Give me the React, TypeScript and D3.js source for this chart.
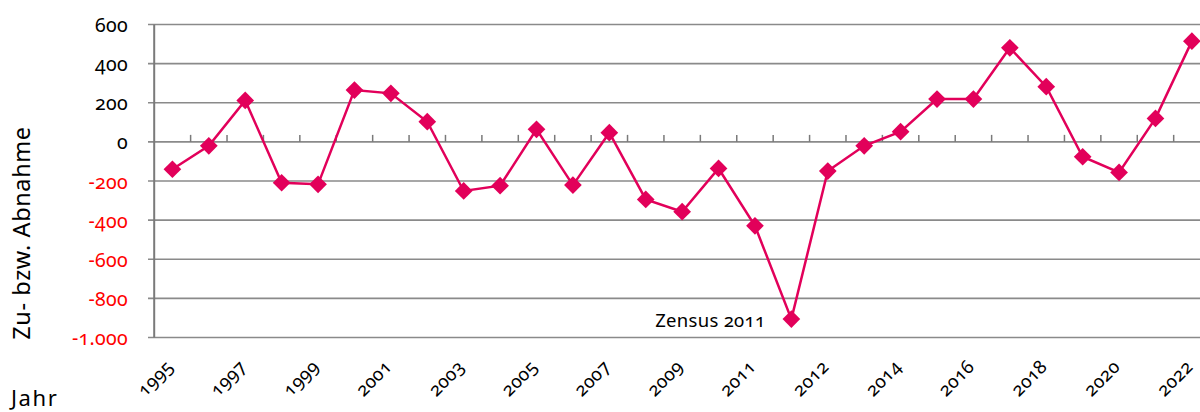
import React from "react";
import * as d3 from "d3";

const categories: string[] = [
  "1995", "1996", "1997", "1998", "1999", "2000", "2001", "2002", "2003", "2004",
  "2005", "2006", "2007", "2008", "2009", "2010", "2011", "Zensus 2011",
  "2012", "2013", "2014", "2015", "2016", "2017", "2018", "2019", "2020", "2021", "2022",
];
const tickLabels: string[] = [
  "1995", "", "1997", "", "1999", "", "2001", "", "2003", "", "2005", "", "2007", "", "2009", "",
  "2011", "", "2012", "", "2014", "", "2016", "", "2018", "", "2020", "", "2022",
];
const values: number[] = [
  -140, -20, 212, -209, -217, 265, 248, 103, -251, -224, 64, -221, 47, -294, -357, -136, -429,
  -906, -149, -20, 52, 219, 219, 481, 282, -76, -156, 120, 515,
];
const yTicks: number[] = [600, 400, 200, 0, -200, -400, -600, -800, -1000];
const yTickLabels: string[] = ["600", "400", "200", "0", "-200", "-400", "-600", "-800", "-1.000"];
const annotation = "Zensus 2011";

const W = 1200;
const H = 412;
const left = 154.2;
const band = 36.41;
const top = 24.5;
const bottom = 337.5;
const lineColor = "#E2005A";
const font = "'Noto Sans', sans-serif";

export default function App() {
  const x = d3
    .scaleBand<number>()
    .domain(categories.map((_, i) => i))
    .range([left, left + band * categories.length])
    .padding(0);
  const y = d3.scaleLinear().domain([-1000, 600]).range([bottom, top]);
  const cx = (i: number) => (x(i) as number) + x.bandwidth() / 2;

  const line = d3
    .line<number>()
    .x((_, i) => cx(i))
    .y((d) => y(d));

  const diamond = d3.symbol().type(d3.symbolDiamond2).size(200)();

  const zeroY = y(0);

  return (
    <svg width={W} height={H} style={{ display: "block", position: "absolute", left: 0, top: 0 }}>
      <g fontFamily={font} style={{ fontVariantNumeric: "oldstyle-nums" }}>
        {yTicks.map((t, i) => (
          <g key={t}>
            <line x1={148} x2={W} y1={y(t)} y2={y(t)} stroke="#8a8a8a" strokeWidth={1.6} />
            <text
              x={128}
              y={y(t)}
              textAnchor="end"
              dominantBaseline="central"
              fontSize={19.5}
              letterSpacing={0.3}
              fill={t < 0 ? "#FF0000" : "#000"}
            >
              {yTickLabels[i]}
            </text>
          </g>
        ))}
        <line x1={left} x2={left} y1={top} y2={bottom} stroke="#7a7a7a" strokeWidth={2} />
        {categories.slice(1).map((_, k) => {
          const bx = x(k + 1) as number;
          return (
            <line key={k} x1={bx} x2={bx} y1={zeroY - 7} y2={zeroY} stroke="#7a7a7a" strokeWidth={1.5} />
          );
        })}
        <path d={line(values) || ""} fill="none" stroke={lineColor} strokeWidth={2.5} />
        {values.map((v, i) => (
          <path key={i} d={diamond || ""} transform={`translate(${cx(i)},${y(v)})`} fill={lineColor} />
        ))}
        {tickLabels.map((l, i) =>
          l ? (
            <text
              key={i}
              transform={`translate(${cx(i) + 2},${368}) rotate(-45)`}
              textAnchor="end"
              fontSize={18.5}
              letterSpacing={0.3}
              fill="#000"
            >
              {l}
            </text>
          ) : null
        )}
        <text x={cx(17) - 26} y={327} textAnchor="end" fontSize={18.5} letterSpacing={0.3} fill="#000">
          {annotation}
        </text>
        <text
          transform={`translate(30,${233}) rotate(-90)`}
          textAnchor="middle"
          fontSize={23.5}
          letterSpacing={0.6}
          fill="#000"
        >
          Zu- bzw. Abnahme
        </text>
        <text x={11} y={406} fontSize={22} letterSpacing={1.6} fill="#000">
          Jahr
        </text>
      </g>
    </svg>
  );
}
